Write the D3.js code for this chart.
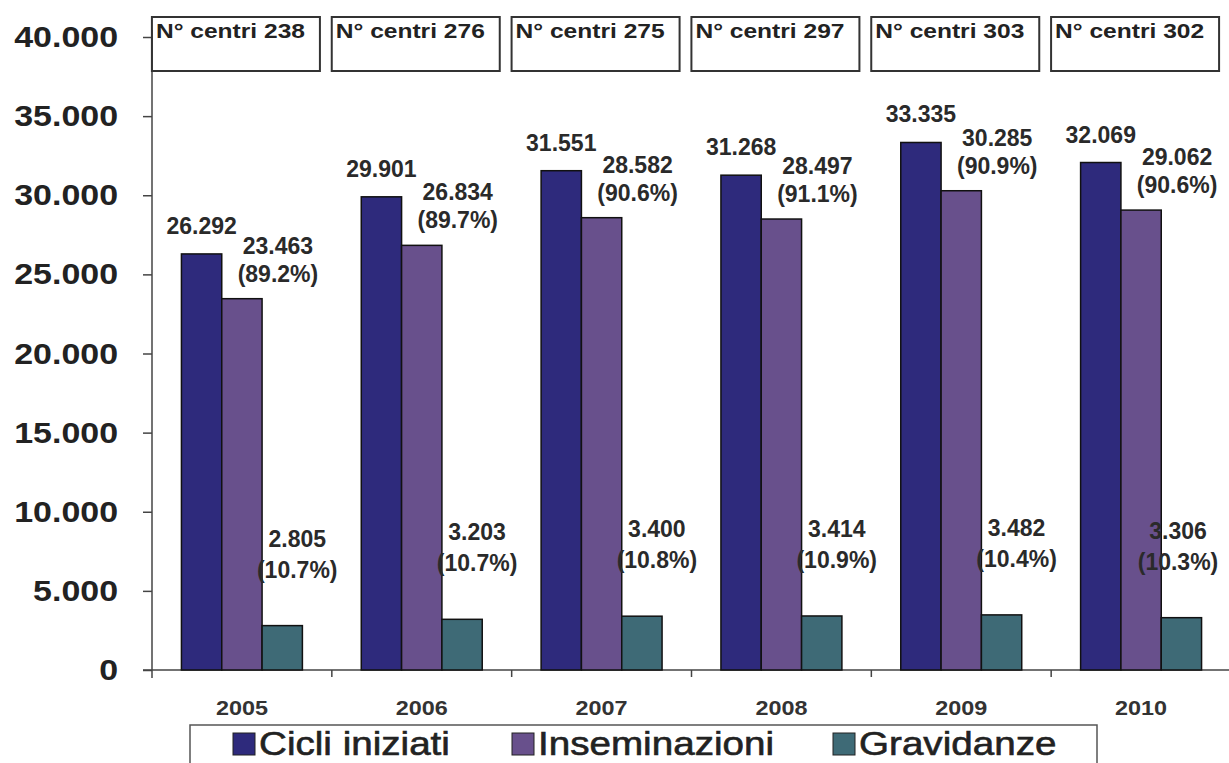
<!DOCTYPE html>
<html>
<head>
<meta charset="utf-8">
<script src="https://cdn.jsdelivr.net/npm/d3@7"></script>
<style>
  html, body { margin: 0; padding: 0; background: #fff; }
  svg { display: block; font-family: "Liberation Sans", Arial, sans-serif; }
</style>
</head>
<body>
<svg id="chart" width="1229" height="763"></svg>
<script>
// data
const years = ["2005", "2006", "2007", "2008", "2009", "2010"];
const centri = [238, 276, 275, 297, 303, 302];
const cicli = [26292, 29901, 31551, 31268, 33335, 32069];
const insem = [23463, 26834, 28582, 28497, 30285, 29062];
const insemPct = ["89.2%", "89.7%", "90.6%", "91.1%", "90.9%", "90.6%"];
const grav = [2805, 3203, 3400, 3414, 3482, 3306];
const gravPct = ["10.7%", "10.7%", "10.8%", "10.9%", "10.4%", "10.3%"];
const seriesNames = ["Cicli iniziati", "Inseminazioni", "Gravidanze"];
const yTicks = [0, 5000, 10000, 15000, 20000, 25000, 30000, 35000, 40000];

const colors = ["#2e2a7c", "#68508c", "#3e6a76"];
const textCol = "#222";
const stretch = 1.17; // the original image is a bit wider than it is tall

const it = d3.formatLocale({ decimal: ",", thousands: ".", grouping: [3], currency: ["", "€"] });
const fmt = it.format(",d");

const svg = d3.select("#chart");

const y = d3.scaleLinear().domain([0, 40000]).range([670, 37]);
const x0 = d3.scaleBand().domain(years).range([152, 1231]).padding(0);
const x1 = d3.scaleBand().domain(seriesNames).range([0, x0.bandwidth()])
    .paddingInner(0).paddingOuter(0.73);

// stretched text helper
function sText(g, x, yy, str, size, weight, anchor) {
    return g.append("text")
        .attr("transform", "translate(" + x + "," + yy + ") scale(" + stretch + ",1)")
        .attr("text-anchor", anchor || "start")
        .attr("font-size", size)
        .attr("font-weight", weight || "bold")
        .attr("fill", textCol)
        .text(str);
}

// Y axis
const yAxis = svg.append("g")
    .attr("transform", "translate(152,0)")
    .call(d3.axisLeft(y).tickValues(yTicks).tickSize(9).tickFormat(""));
yAxis.select(".domain").attr("d", "M0,30V678").attr("stroke", "#444").attr("stroke-width", 1.5);
yAxis.selectAll(".tick line").attr("stroke", "#444").attr("stroke-width", 1.5);
yTicks.forEach(t => {
    sText(svg, 118, y(t) + 10, fmt(t), 29, "bold", "end");
});

// X axis
const xAxis = svg.append("g")
    .attr("transform", "translate(0,670)");
xAxis.append("line").attr("x1", 143).attr("x2", 1229).attr("y1", 0).attr("y2", 0)
    .attr("stroke", "#444").attr("stroke-width", 1.5);
xAxis.selectAll("line.sep")
    .data(years.slice(1))
    .enter().append("line")
    .attr("class", "sep")
    .attr("x1", d => x0(d)).attr("x2", d => x0(d))
    .attr("y1", 0).attr("y2", 7)
    .attr("stroke", "#444").attr("stroke-width", 1.5);
years.forEach(yr => {
    sText(svg, x0(yr) + x0.bandwidth() / 2, 715, yr, 20, "bold", "middle").attr("fill", "#333");
});

// Bars
const seriesVals = [cicli, insem, grav];
const groups = svg.append("g");
years.forEach((yr, i) => {
    seriesNames.forEach((s, j) => {
        const v = seriesVals[j][i];
        groups.append("rect")
            .attr("x", x0(yr) + x1(s))
            .attr("y", y(v))
            .attr("width", x1.bandwidth())
            .attr("height", y(0) - y(v))
            .attr("fill", colors[j])
            .attr("stroke", "#111")
            .attr("stroke-width", 1.5);
    });
});

// Value labels
const lab = svg.append("g");
function vLabel(xx, yy, str) {
    lab.append("text")
        .attr("x", xx).attr("y", yy)
        .attr("text-anchor", "middle")
        .attr("font-size", 23)
        .attr("font-weight", "bold")
        .attr("fill", "#2a2a2a")
        .text(str);
}
years.forEach((yr, i) => {
    const cx = k => x0(yr) + x1(seriesNames[k]) + x1.bandwidth() / 2;
    vLabel(cx(0), y(cicli[i]) - 20, fmt(cicli[i]));
    vLabel(cx(1) + 36, y(insem[i]) - 45, fmt(insem[i]));
    vLabel(cx(1) + 36, y(insem[i]) - 17, "(" + insemPct[i] + ")");
    // keep the last label inside the picture
    const gx = Math.min(cx(2) + 15, 1178);
    vLabel(gx, y(grav[i]) - 79, fmt(grav[i]));
    vLabel(gx, y(grav[i]) - 48, "(" + gravPct[i] + ")");
});

// "N° centri" boxes on top
const boxes = svg.append("g");
years.forEach((yr, i) => {
    const bw = 168;
    const bx = x0(yr) + x0.bandwidth() / 2 - bw / 2 - 6;
    boxes.append("rect")
        .attr("x", bx).attr("y", 17)
        .attr("width", bw).attr("height", 54)
        .attr("fill", "none")
        .attr("stroke", "#333").attr("stroke-width", 2);
    sText(boxes, bx + 4, 38, "N° centri " + centri[i], 21, "bold");
});

// Legend (the original is clipped at the bottom; kept just inside here)
const legendX = [233, 512, 833];
const leg = svg.append("g");
leg.append("rect")
    .attr("x", 190).attr("y", 725)
    .attr("width", 907).attr("height", 60)
    .attr("fill", "#fff")
    .attr("stroke", "#555").attr("stroke-width", 1.5);
seriesNames.forEach((s, j) => {
    leg.append("rect")
        .attr("x", legendX[j]).attr("y", 733)
        .attr("width", 22).attr("height", 22)
        .attr("fill", colors[j])
        .attr("stroke", "#222").attr("stroke-width", 1);
    sText(leg, legendX[j] + 26, 755, s, 33, "normal")
        .attr("stroke", textCol).attr("stroke-width", 0.6);
});
</script>
</body>
</html>
